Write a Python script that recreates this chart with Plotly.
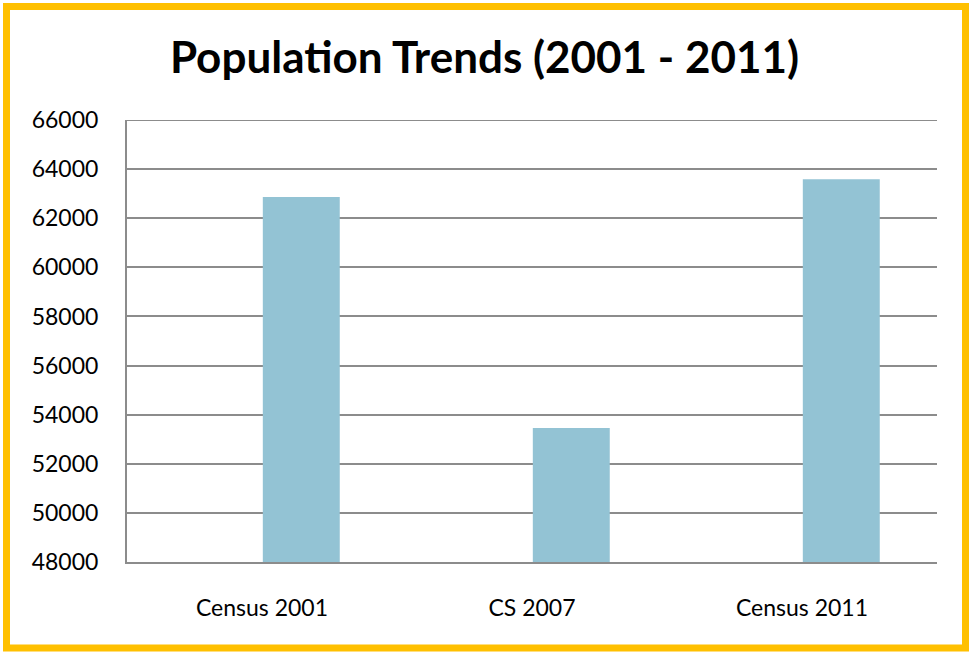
import plotly.graph_objects as go

categories = ["Census 2001", "CS 2007", "Census 2011"]
population = [62860, 53460, 63590]
y_ticks = list(range(48000, 66001, 2000))
y_tick_labels = [str(v) for v in y_ticks]

W, H = 969, 652
ML, MR, MT, MB = 127, 32, 120, 90
PW, PH = W - ML - MR, H - MT - MB

fig = go.Figure()
fig.add_trace(go.Bar(
    x=categories, y=population,
    marker=dict(color="#93C3D4", line=dict(width=0)),
    width=0.285, offset=0.003,
))

font = "Lato, 'Open Sans', sans-serif"
fig.update_layout(
    width=W, height=H,
    margin=dict(l=ML, r=MR, t=MT, b=MB),
    paper_bgcolor="white", plot_bgcolor="white",
    showlegend=False,
    title=dict(text="<b>Population Trends (2001 - 2011)</b>",
               x=0.5, xref="container", xanchor="center",
               y=1 - 58 / H, yanchor="middle",
               font=dict(family=font, size=44, color="black")),
    xaxis=dict(showgrid=False, showline=True, linecolor="#8c8c8c", linewidth=2,
               ticks="", tickfont=dict(family=font, size=23, color="black"),
               ticklabelstandoff=24, range=[-0.5, 2.5]),
    yaxis=dict(range=[y_ticks[0], y_ticks[-1]], tickvals=y_ticks, ticktext=y_tick_labels,
               showgrid=True, gridcolor="#8c8c8c", gridwidth=2, showline=True,
               linecolor="#8c8c8c", linewidth=2, ticks="",
               tickfont=dict(family=font, size=23, color="black"),
               ticklabelstandoff=22, zeroline=False),
)

# top gridline at the maximum tick
fig.add_shape(type="line", xref="paper", yref="y", x0=0, x1=1,
              y0=y_ticks[-1], y1=y_ticks[-1],
              line=dict(color="#8c8c8c", width=2), layer="below")

# yellow frame around whole image
fig.add_shape(type="rect", xref="paper", yref="paper",
              x0=(6.5 - ML) / PW, x1=(W - 3.5 - ML) / PW,
              y0=-(MB - 4) / PH, y1=(H - MB - 6.5) / PH,
              line=dict(color="#FFC000", width=7), layer="above")

fig.write_html("out.html")
